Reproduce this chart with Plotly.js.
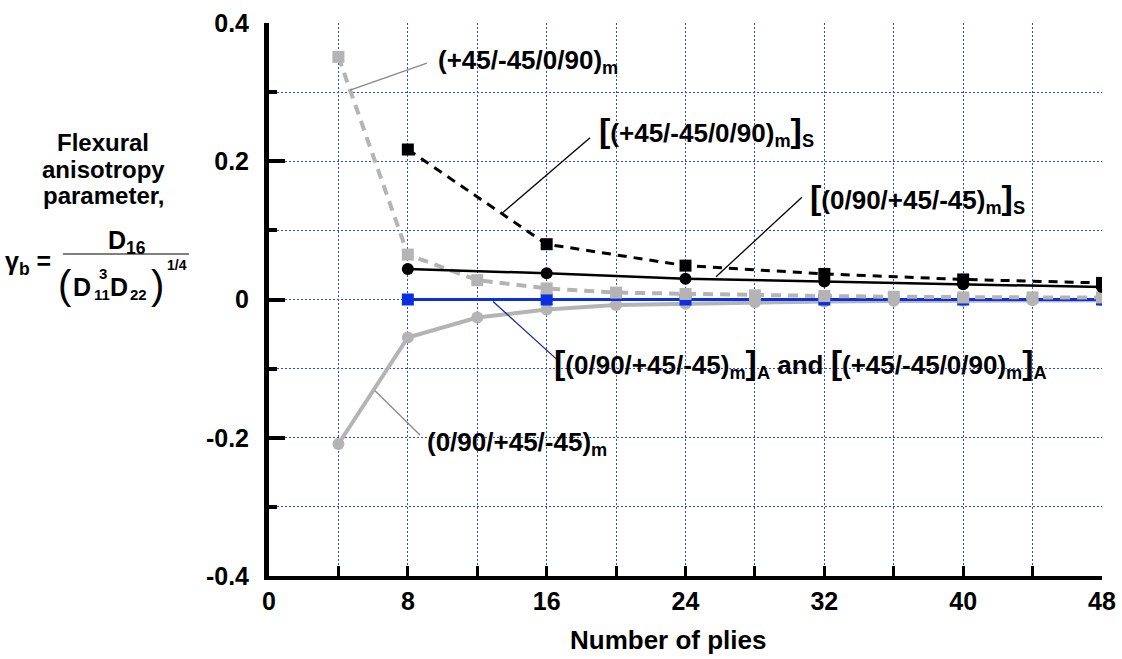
<!DOCTYPE html>
<html>
<head>
<meta charset="utf-8">
<script src="https://cdn.plot.ly/plotly-3.0.1.min.js"></script>
<style>html,body{margin:0;padding:0;background:#fff;}#chart{width:1122px;height:659px;}</style>
</head>
<body>
<div id="chart"></div>
<script>
// ---- data ----
var pliesAll = [4, 8, 12, 16, 20, 24, 28, 32, 36, 40, 44, 48];
var pliesSym = [8, 16, 24, 32, 40, 48];
var qi45m   = [0.351, 0.065, 0.028, 0.016, 0.010, 0.008, 0.006, 0.005, 0.004, 0.003, 0.003, 0.003];   // (+45/-45/0/90)m
var qi090m  = [-0.209, -0.055, -0.026, -0.0145, -0.008, -0.006, -0.004, -0.003, -0.002, -0.002, -0.001, -0.001]; // (0/90/+45/-45)m
var sym45   = [0.217, 0.080, 0.049, 0.037, 0.029, 0.024];   // [(+45/-45/0/90)m]S
var sym090  = [0.044, 0.038, 0.030, 0.026, 0.022, 0.018];   // [(0/90/+45/-45)m]S
var antisym = [0, 0, 0, 0, 0, 0];                           // [..]A
var xTickVals = [0, 8, 16, 24, 32, 40, 48];
var yTickVals = [-0.4, -0.2, 0, 0.2, 0.4];
var yTickText = ['-0.4', '-0.2', '0', '0.2', '0.4'];

// ---- geometry helpers (pixel -> paper) ----
var L = 269, R = 1102, T = 23, B = 576;
function px(x) { return (x - L) / (R - L); }
function py(y) { return (B - y) / (B - T); }

var FONT = 'Liberation Sans, Arial, Helvetica, sans-serif';
var GRAY = '#b4b4b4';
var BLUE = '#0a2ee0';
var GRID = '#2a48ee';

var traces = [
  {x: pliesAll, y: qi090m, mode: 'lines+markers', line: {color: GRAY, width: 4},
   marker: {symbol: 'circle', size: 12, color: GRAY}},
  {x: pliesSym, y: antisym, mode: 'lines+markers', line: {color: BLUE, width: 3},
   marker: {symbol: 'square', size: 12, color: BLUE}},
  {x: pliesAll, y: qi45m, mode: 'lines+markers', line: {color: GRAY, width: 4, dash: '10px,7px'},
   marker: {symbol: 'square', size: 12, color: GRAY}},
  {x: pliesSym, y: sym45, mode: 'lines+markers', line: {color: '#000', width: 3, dash: '9px,7px'},
   marker: {symbol: 'square', size: 12, color: '#000'}},
  {x: pliesSym, y: sym090, mode: 'lines+markers', line: {color: '#000', width: 2.5},
   marker: {symbol: 'circle', size: 12, color: '#000'}}
];

function ann(text, x, y, size, opts) {
  var a = {text: text, xref: 'paper', yref: 'paper', x: px(x), y: py(y),
    xanchor: 'left', yanchor: 'middle', showarrow: false,
    font: {family: FONT, size: size, color: '#000', weight: 'bold'}};
  if (opts) for (var k in opts) a[k] = opts[k];
  return a;
}
var BR = '<span style="font-size:34px">[</span>';
var BR2 = '<span style="font-size:34px">]</span>';
var PAREN = {family: FONT, size: 40, color: '#000', weight: 'normal'};

var annotations = [
  ann('(+45/-45/0/90)<sub>m</sub>', 436, 62, 26),
  ann(BR + '(+45/-45/0/90)<sub>m</sub>' + BR2 + '<sub>S</sub>', 597, 131, 26),
  ann(BR + '(0/90/+45/-45)<sub>m</sub>' + BR2 + '<sub>S</sub>', 808, 198, 26),
  ann(BR + '(0/90/+45/-45)<sub>m</sub>' + BR2 + '<sub>A</sub> and ' + BR + '(+45/-45/0/90)<sub>m</sub>' + BR2 + '<sub>A</sub>', 552, 363, 26),
  ann('(0/90/+45/-45)<sub>m</sub>', 425, 443, 26),
  // x-axis title
  ann('Number of plies', 668, 640, 26, {xanchor: 'center'}),
  // y-axis title block
  ann('Flexural', 103, 142, 24, {xanchor: 'center'}),
  ann('anisotropy', 103, 169, 24, {xanchor: 'center'}),
  ann('parameter,', 103, 195, 24, {xanchor: 'center'}),
  ann('γ<sub>b</sub> =', 3, 263, 25),
  ann('D<sub>16</sub>', 127, 242, 25, {xanchor: 'center'}),
  ann('(', 56, 285, 40, {font: PAREN}),
  ann('D', 71, 287, 25),
  ann('3', 97, 273, 15),
  ann('11', 92, 294, 15),
  ann('D', 108, 287, 25),
  ann('22', 128, 294, 15),
  ann(')', 149, 285, 40, {font: PAREN}),
  ann('1/4', 165, 265, 14)
];

var shapes = [
  // fraction bar
  {type: 'line', xref: 'paper', yref: 'paper', x0: px(63), x1: px(189), y0: py(254), y1: py(254), line: {color: '#000', width: 1.2}},
  // leader lines (data coords)
  {type: 'line', x0: 9.10, y0: 0.342, x1: 4.67, y1: 0.303, line: {color: '#888', width: 1.3}},
  {type: 'line', x0: 18.50, y0: 0.234, x1: 13.48, y1: 0.126, line: {color: '#000', width: 1.3}},
  {type: 'line', x0: 30.71, y0: 0.148, x1: 25.76, y1: 0.033, line: {color: '#000', width: 1.3}},
  {type: 'line', x0: 16.60, y0: -0.087, x1: 12.91, y1: -0.003, line: {color: '#1a2a8a', width: 1.3}},
  {type: 'line', x0: 8.70, y0: -0.196, x1: 6.11, y1: -0.132, line: {color: '#888', width: 1.3}}
];

var layout = {
  width: 1122, height: 659,
  margin: {l: L, r: 1122 - R, t: T, b: 659 - B, pad: 0},
  paper_bgcolor: '#fff', plot_bgcolor: '#fff',
  showlegend: false,
  font: {family: FONT, size: 24, color: '#000', weight: 'bold'},
  xaxis: {
    range: [0, 48], tickmode: 'array', tickvals: xTickVals,
    ticks: 'inside', ticklen: 10, tickwidth: 3, tickcolor: '#000',
    showline: true, linecolor: '#000', linewidth: 4,
    showgrid: true, gridcolor: GRID, gridwidth: 1, griddash: '2px,2px',
    zeroline: false, ticklabelstandoff: 0,
    tickfont: {family: FONT, size: 25, color: '#000', weight: 'bold'},
    minor: {dtick: 4, tick0: 0, ticks: 'inside', ticklen: 10, tickwidth: 3, tickcolor: '#000',
            showgrid: true, gridcolor: GRID, gridwidth: 1, griddash: '2px,2px'}
  },
  yaxis: {
    range: [-0.4, 0.4], tickmode: 'array', tickvals: yTickVals, ticktext: yTickText,
    ticks: 'inside', ticklen: 16, tickwidth: 4, tickcolor: '#000',
    showline: true, linecolor: '#000', linewidth: 5,
    showgrid: true, gridcolor: GRID, gridwidth: 1, griddash: '2px,2px',
    zeroline: false, ticklabelstandoff: 10,
    tickfont: {family: FONT, size: 25, color: '#000', weight: 'bold'},
    minor: {dtick: 0.1, tick0: 0, ticks: 'inside', ticklen: 8, tickwidth: 4, tickcolor: '#000',
            showgrid: true, gridcolor: GRID, gridwidth: 1, griddash: '2px,2px'}
  },
  annotations: annotations,
  shapes: shapes
};

Plotly.newPlot('chart', traces, layout, {displayModeBar: false, staticPlot: true});
</script>
</body>
</html>
